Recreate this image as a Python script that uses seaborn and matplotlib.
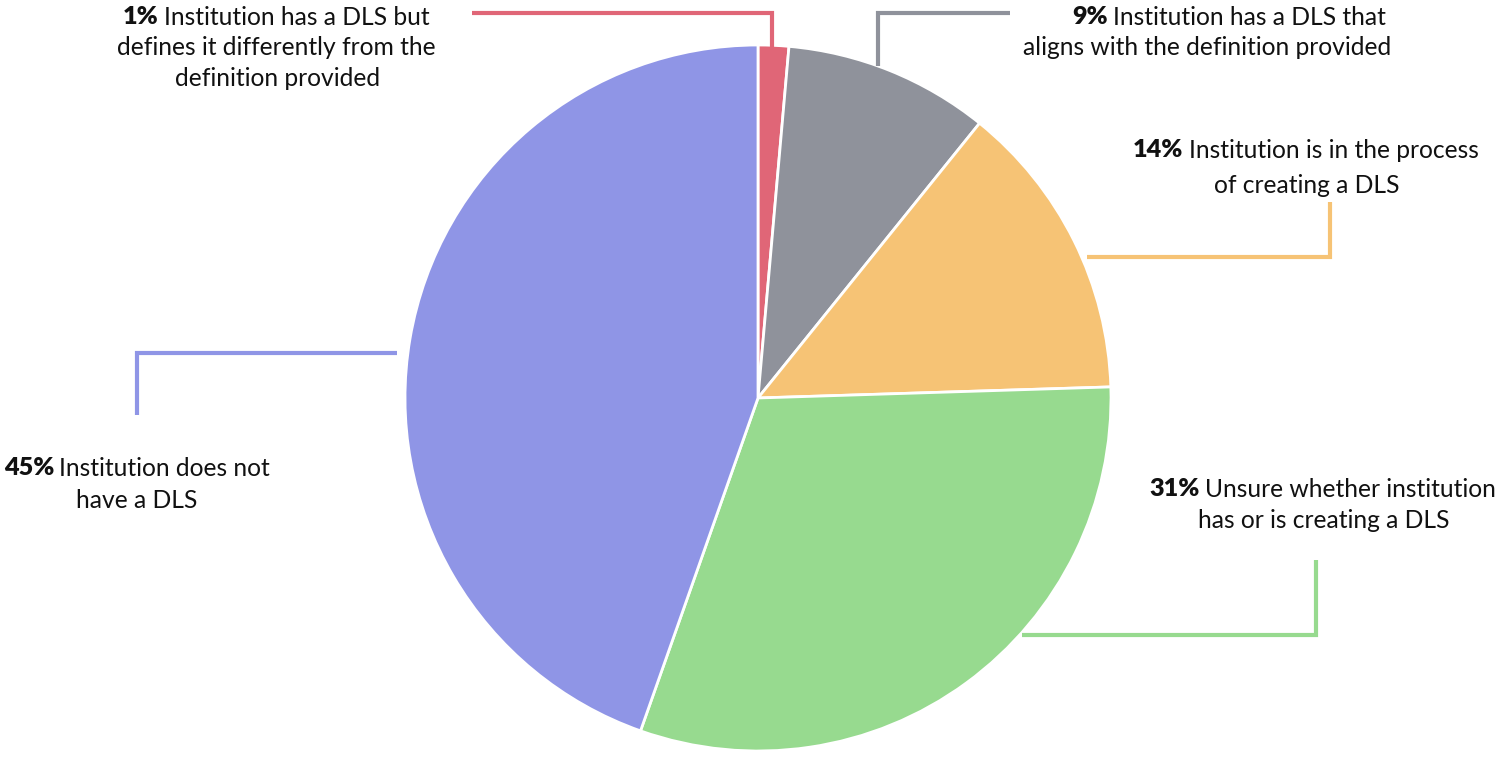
import matplotlib
matplotlib.use("Agg")
import matplotlib.pyplot as plt
import seaborn as sns

# slice shares, clockwise from 12 o'clock
shares = [1.4, 9.4, 13.7, 30.9, 44.6]
descriptions = [
    ["Institution has a DLS but", "defines it differently from the", "definition provided"],
    ["Institution has a DLS that", "aligns with the definition provided"],
    ["Institution is in the process", "of creating a DLS"],
    ["Unsure whether institution", "has or is creating a DLS"],
    ["Institution does not", "have a DLS"],
]
colors = ["#E06677", "#8F929B", "#F6C375", "#97DA8F", "#8F95E6"]

# label placement (pixel coords, y from top): per-line centre x and y
label_pos = [
    [(276, 17), (276, 47), (278, 78)],
    [(1229, 17), (1207, 47)],
    [(1306, 150), (1307, 185)],
    [(1323, 489), (1324, 521)],
    [(137, 468), (137, 500)],
]
# elbow connectors (pixel coords)
connectors = [
    [(472, 13), (772, 13), (772, 47)],
    [(878, 66), (878, 13), (1010, 13)],
    [(1087, 257), (1330, 257), (1330, 202)],
    [(1022, 635), (1316, 635), (1316, 560)],
    [(397, 353), (137, 353), (137, 415)],
]

sns.set_theme(style="white")
plt.rcParams["font.family"] = ["Lato", "DejaVu Sans"]

W, H = 1500, 778
fig = plt.figure(figsize=(W / 100, H / 100), dpi=100)

cx, cy, r = 758, 398, 353
ax = fig.add_axes([(cx - r) / W, (H - cy - r) / H, 2 * r / W, 2 * r / H])
ax.pie(shares, colors=colors, startangle=90, counterclock=False, radius=1,
       wedgeprops=dict(edgecolor="white", linewidth=2))
ax.set_xlim(-1, 1)
ax.set_ylim(-1, 1)
ax.set_aspect("equal")
ax.axis("off")

ov = fig.add_axes([0, 0, 1, 1], zorder=5)
ov.set_xlim(0, W)
ov.set_ylim(H, 0)
ov.axis("off")
ov.patch.set_alpha(0)

for pts, c in zip(connectors, colors):
    ov.plot([p[0] for p in pts], [p[1] for p in pts], color=c, lw=3,
            solid_joinstyle="miter", solid_capstyle="butt")

fs = 17.7
renderer = fig.canvas.get_renderer()
for v, lines, pos in zip(shares, descriptions, label_pos):
    for i, (txt, (x, y)) in enumerate(zip(lines, pos)):
        if i == 0:
            tb = ov.text(0, y, f"{round(v)}%", fontsize=fs + 0.5, fontweight="heavy",
                         color="#111111", ha="left", va="center")
            tr = ov.text(0, y, txt, fontsize=fs, color="#111111", ha="left", va="center")
            wb = tb.get_window_extent(renderer).width
            wr = tr.get_window_extent(renderer).width
            gap = fs * 0.3
            x0 = x - (wb + gap + wr) / 2
            tb.set_x(x0)
            tr.set_x(x0 + wb + gap)
        else:
            ov.text(x, y, txt, fontsize=fs, color="#111111", ha="center", va="center")

fig.savefig("out.png", dpi=100)
